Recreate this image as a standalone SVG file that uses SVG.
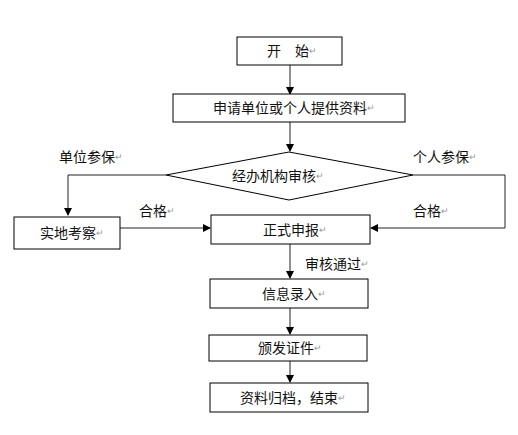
<svg xmlns="http://www.w3.org/2000/svg" width="518" height="435" viewBox="0 0 518 435">
<style>
.box{fill:#fff;stroke:#000;stroke-width:1}
.t{font-family:"Liberation Sans","Noto Sans CJK SC",sans-serif;font-size:14px;fill:#111;dominant-baseline:central}
.m{fill:#999;font-size:9px}
.c{fill:none;stroke:#222;stroke-width:1}
</style>
<defs>
<marker id="ah" markerWidth="8" markerHeight="8" refX="7" refY="4" orient="auto" markerUnits="userSpaceOnUse">
<path d="M0,0 L8,4 L0,8 Z" fill="#000"/>
</marker>
</defs>
<rect width="518" height="435" fill="#fff"/>
<g id="connectors">
<path class="c" d="M290,65 V94" marker-end="url(#ah)"/>
<path class="c" d="M290,122 V151" marker-end="url(#ah)"/>
<path class="c" d="M166,175 H68 V215" marker-end="url(#ah)"/>
<path class="c" d="M413,175 H505 V228 H371" marker-end="url(#ah)"/>
<path class="c" d="M120,228 H210" marker-end="url(#ah)"/>
<path class="c" d="M290,244 V278" marker-end="url(#ah)"/>
<path class="c" d="M290,308 V334" marker-end="url(#ah)"/>
<path class="c" d="M290,361 V382" marker-end="url(#ah)"/>
</g>
<g id="n_start"><rect class="box" x="237" y="37" width="105" height="28"/><text class="t" x="267" y="51">开　始<tspan class="m">↵</tspan></text></g>
<g id="n_apply"><rect class="box" x="173" y="94" width="232" height="28"/><text class="t" x="213" y="108">申请单位或个人提供资料<tspan class="m">↵</tspan></text></g>
<g id="n_review"><polygon class="box" points="289,152 413,175 289,200 166,175"/><text class="t" x="232" y="176">经办机构审核<tspan class="m">↵</tspan></text></g>
<g id="n_site"><rect class="box" x="14" y="217" width="106" height="32"/><text class="t" x="40" y="233">实地考察<tspan class="m">↵</tspan></text></g>
<g id="n_report"><rect class="box" x="211" y="215" width="159" height="29"/><text class="t" x="263" y="230">正式申报<tspan class="m">↵</tspan></text></g>
<g id="n_input"><rect class="box" x="210" y="279" width="158" height="29"/><text class="t" x="262" y="294">信息录入<tspan class="m">↵</tspan></text></g>
<g id="n_cert"><rect class="box" x="209" y="335" width="158" height="26"/><text class="t" x="258" y="348">颁发证件<tspan class="m">↵</tspan></text></g>
<g id="n_archive"><rect class="box" x="210" y="383" width="158" height="29"/><text class="t" x="240" y="398">资料归档，结束<tspan class="m">↵</tspan></text></g>
<g id="labels">
<text class="t" x="59" y="157">单位参保<tspan class="m">↵</tspan></text>
<text class="t" x="413" y="157">个人参保<tspan class="m">↵</tspan></text>
<text class="t" x="139" y="211">合格<tspan class="m">↵</tspan></text>
<text class="t" x="413" y="211">合格<tspan class="m">↵</tspan></text>
<text class="t" x="305" y="264">审核通过<tspan class="m">↵</tspan></text>
</g>
</svg>
